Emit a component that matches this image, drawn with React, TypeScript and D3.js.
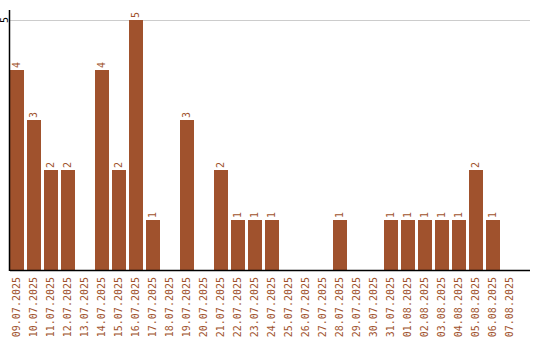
import React from "react";
import * as d3 from "d3";

const categories = [
  "09.07.2025","10.07.2025","11.07.2025","12.07.2025","13.07.2025","14.07.2025","15.07.2025","16.07.2025","17.07.2025","18.07.2025",
  "19.07.2025","20.07.2025","21.07.2025","22.07.2025","23.07.2025","24.07.2025","25.07.2025","26.07.2025","27.07.2025","28.07.2025",
  "29.07.2025","30.07.2025","31.07.2025","01.08.2025","02.08.2025","03.08.2025","04.08.2025","05.08.2025","06.08.2025","07.08.2025",
];
const values = [4,3,2,2,0,4,2,5,1,0,3,0,2,1,1,1,0,0,0,1,0,0,1,1,1,1,1,2,1,0];
const yTicks = [5];

const W = 540, H = 340;
const left = 10, right = 530, top = 10, bottom = 270;
const color = "#a0522d";
const font = "'DejaVu Sans Mono', monospace";

export default function App() {
  const x = d3.scaleBand<string>().domain(categories).range([left, 517]).paddingInner(3 / 17).paddingOuter(0);
  const y = d3.scaleLinear().domain([0, 5]).range([bottom, 20]);
  const bw = x.bandwidth();
  return (
    <svg width={W} height={H} style={{ position: "absolute", left: 0, top: 0, display: "block" }} textRendering="optimizeSpeed">
      {yTicks.map((t) => (
        <g key={t}>
          <line x1={left} x2={right} y1={y(t) + 0.5} y2={y(t) + 0.5} stroke="#cccccc" strokeWidth={1} />
          <text x={5} y={y(t)} transform={`rotate(-90,5,${y(t)})`} textAnchor="middle" dominantBaseline="middle" fontFamily={font} fontSize={10} fill="#000">{t}</text>
        </g>
      ))}
      {categories.map((c, i) => {
        const v = values[i];
        const cx = (x(c) as number) + bw / 2;
        return (
          <g key={c}>
            {v > 0 && (
              <rect x={x(c)} y={y(v)} width={bw} height={y(0) - y(v)} fill={color} shapeRendering="crispEdges" />
            )}
            {v > 0 && (
              <text x={cx} y={y(v) - 2} transform={`rotate(-90,${cx},${y(v) - 2})`} textAnchor="start" dominantBaseline="middle" fontFamily={font} fontSize={10} fill={color}>{v}</text>
            )}
            <text x={cx} y={bottom + 7} transform={`rotate(-90,${cx},${bottom + 7})`} textAnchor="end" dominantBaseline="middle" fontFamily={font} fontSize={10} fill={color}>{c}</text>
          </g>
        );
      })}
      <line x1={left - 0.5} x2={left - 0.5} y1={top} y2={bottom + 1} stroke="#000" strokeWidth={1.5} />
      <line x1={left} x2={right} y1={bottom + 0.5} y2={bottom + 0.5} stroke="#000" strokeWidth={1.5} />
    </svg>
  );
}
